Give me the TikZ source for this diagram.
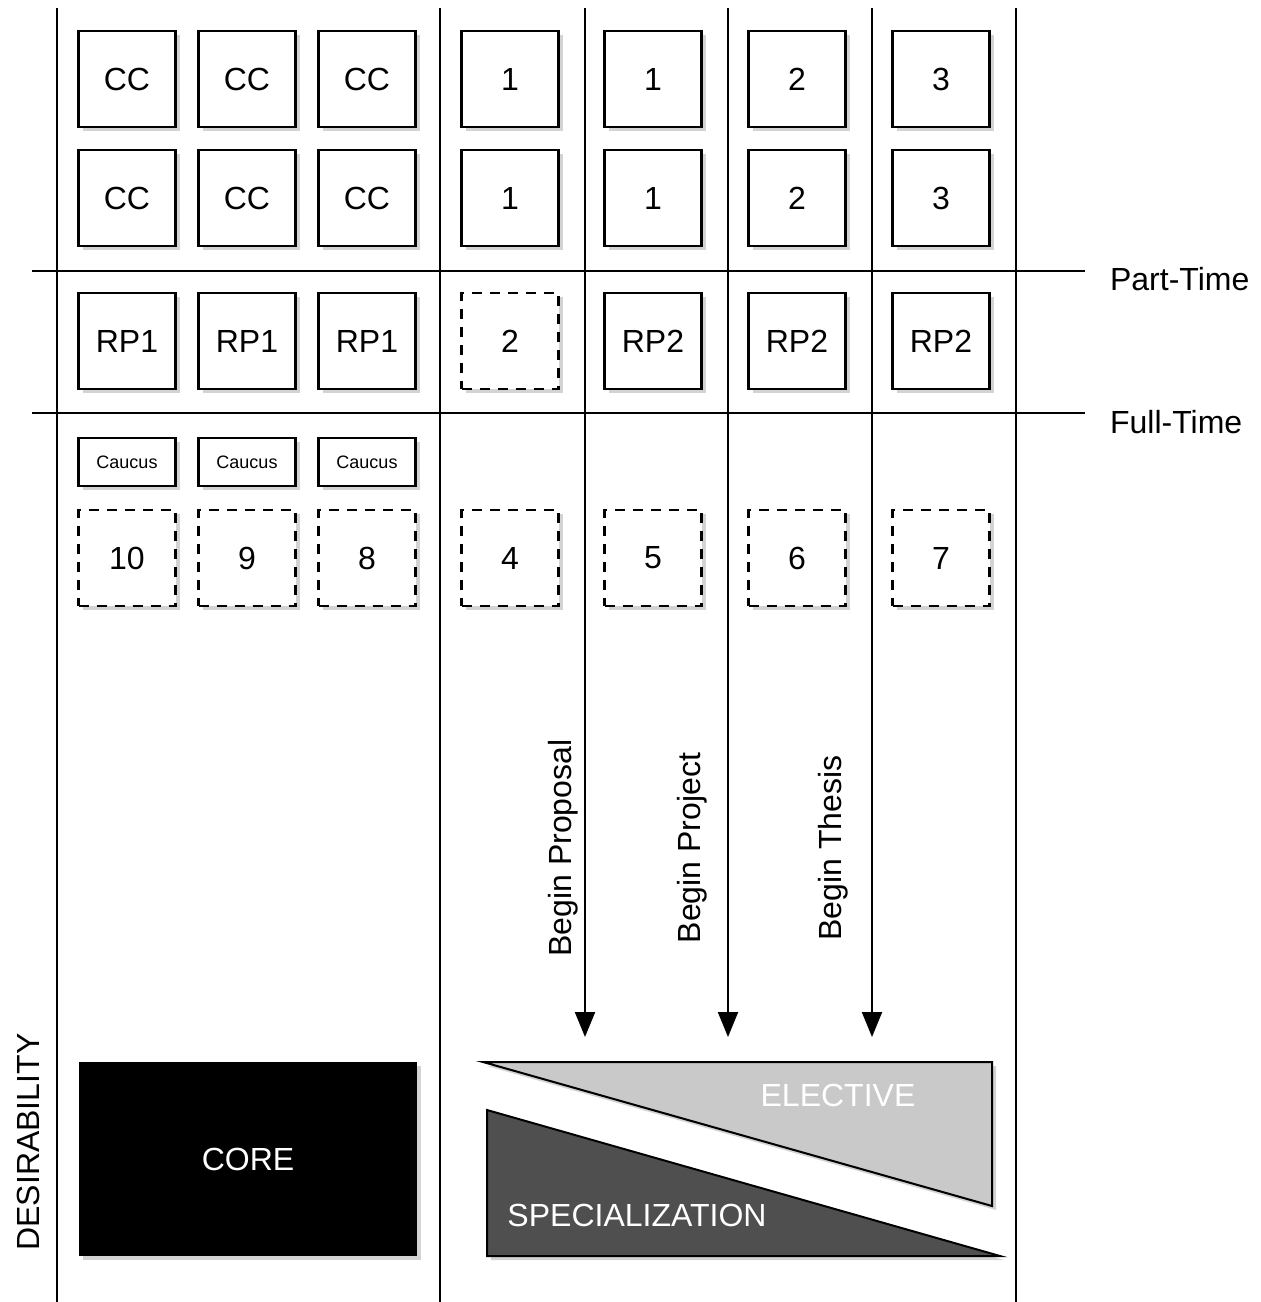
\documentclass[tikz,border=0pt]{standalone}
\usepackage{fontspec}
\setmainfont{Liberation Sans}
\usetikzlibrary{shadows,arrows.meta}

\begin{document}
\begin{tikzpicture}[x=0.5pt, y=-0.5pt,
    shade/.style={drop shadow={shadow xshift=2pt, shadow yshift=-2pt, opacity=0.35}},
    course/.style={draw, line width=1.2pt, fill=white, shade,
      minimum width=48.5pt, minimum height=48pt, inner sep=0pt,
      font=\fontsize{16}{19}\selectfont},
    open/.style={course, dash pattern=on 5pt off 4pt},
    caucus/.style={course, minimum height=24pt, font=\fontsize{9}{11}\selectfont},
    rule/.style={line width=1pt},
    label/.style={font=\fontsize{16}{19}\selectfont}]
    \useasboundingbox (0,0) rectangle (1261,1302);

    % Grille: colonnes et lignes de temps.
    \foreach \x in {57,440,1016} {
      \draw[rule] (\x,8) -- (\x,1302);
    }
    \draw[rule] (32,271) -- (1085,271);
    \draw[rule] (32,413) -- (1085,413);
    \node[label, anchor=west] (parttime) at (1103,279) {Part-Time};
    \node[label, anchor=west] (fulltime) at (1103,422) {Full-Time};

    % Cours de base.
    \foreach \x [count=\i] in {127,247,367} {
      \node[course] (cc-a\i) at (\x,79) {CC};
      \node[course] (cc-b\i) at (\x,198) {CC};
      \node[course] (rp-a\i) at (\x,341) {RP1};
      \node[caucus] (caucus-\i) at (\x,462) {Caucus};
    }
    \node[open] (ft-10) at (127,558) {10};
    \node[open] (ft-9) at (247,558) {9};
    \node[open] (ft-8) at (367,558) {8};

    % Cours de la seconde partie.
    \node[course] (sp-a1) at (510,79) {1};
    \node[course] (sp-b1) at (510,198) {1};
    \node[course] (sp-a2) at (653,79) {1};
    \node[course] (sp-b2) at (653,198) {1};
    \node[course] (sp-a3) at (797,79) {2};
    \node[course] (sp-b3) at (797,198) {2};
    \node[course] (sp-a4) at (941,79) {3};
    \node[course] (sp-b4) at (941,198) {3};
    \node[open] (rp-b1) at (510,341) {2};
    \foreach \x [count=\i from 2] in {653,797,941} {
      \node[course] (rp-b\i) at (\x,341) {RP2};
    }
    \foreach \x/\n in {510/4,653/5,797/6,941/7} {
      \node[open] (ft-\n) at (\x,558) {\n};
    }

    % Début des travaux.
    \foreach \x/\lx/\t [count=\i] in {585/563/Begin Proposal,728/692/Begin Project,872/833/Begin Thesis} {
      \coordinate (start-\i) at (\x,8);
      \coordinate (end-\i) at (\x,1037);
      \draw[rule, -{Triangle[width=10pt,length=12.5pt]}] (start-\i) -- (end-\i);
      \node[label, rotate=90] (begin-\i) at (\lx,848) {\t};
    }

    % Blocs du bas.
    \node[fill=black, minimum width=169pt, minimum height=97pt, shade,
      label, text=white] (core) at (248,1159) {CORE};
    \filldraw[line width=1pt, fill=black!21, shade]
      (483,1062) -- (992,1062) -- (992,1206) -- cycle;
    \filldraw[line width=1pt, fill=black!69, shade]
      (487,1110) -- (1000,1256) -- (487,1256) -- cycle;
    \node[label, text=white] (elective) at (838,1095) {ELECTIVE};
    \node[label, text=white] (special) at (637,1215) {SPECIALIZATION};
    \node[label, rotate=90] (desire) at (28,1142) {DESIRABILITY};
  \end{tikzpicture}
\end{document}
